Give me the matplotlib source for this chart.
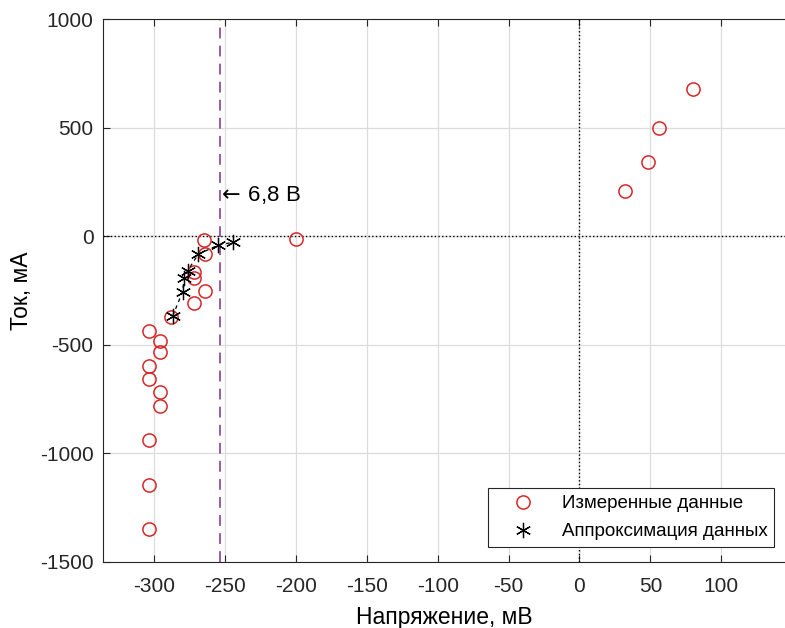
import numpy as np
import matplotlib.pyplot as plt

plt.rcParams['font.family'] = ['Liberation Sans', 'DejaVu Sans']
plt.rcParams['axes.unicode_minus'] = False

# измеренные точки: напряжение (мВ), ток (мА)
u_meas = [80, 56, 48, 32, -200, -265, -264, -272, -272, -264, -272, -288,
          -304, -296, -296, -304, -304, -296, -296, -304, -304, -304]
i_meas = [680, 500, 340, 210, -12, -17, -83, -163, -194, -251, -310, -372,
          -435, -483, -532, -596, -658, -716, -781, -940, -1146, -1348]

# аппроксимация
u_appr = [-287, -280, -279, -276.5, -269, -255, -244.5]
i_appr = [-367, -255, -194, -159, -83, -41, -28]

u_break = -254
xticks = [-300, -250, -200, -150, -100, -50, 0, 50, 100]
yticks = [-1500, -1000, -500, 0, 500, 1000]

fig = plt.figure(figsize=(7.85, 6.28), dpi=100)
ax = fig.add_axes([0.1316, 0.1056, 0.8684, 0.8637])

ax.axhline(0, color='black', ls=':', lw=1, zorder=1)
ax.axvline(0, color='black', ls=':', lw=1, zorder=1)
ax.axvline(u_break, color='#7E2F8E', ls=(0, (6, 4)), lw=1.3, alpha=0.85, zorder=2)

ax.plot(u_meas, i_meas, 'o', mfc='none', mec='#d62728', ms=9.5, mew=1.1,
        label='Измеренные данные', zorder=3)
ax.plot(u_appr, i_appr, color='black', ls=(0, (3, 3)), lw=0.9, marker=(6, 2, 0),
        ms=11, mew=0.9, label='Аппроксимация данных', zorder=4)

ax.text(u_break - 1.5, 190, r'$\leftarrow\,$6,8 В', fontsize=16, va='center', ha='left')

ax.set_xlim(-336, 145)
ax.set_ylim(-1500, 1000)
ax.set_xticks(xticks)
ax.set_yticks(yticks)
ax.tick_params(direction='in', top=True, labelsize=15, length=5, colors='#262626')
ax.tick_params(axis='x', pad=11)
ax.tick_params(axis='y', pad=7)
ax.grid(True, color='#dcdcdc', lw=0.9)
ax.set_axisbelow(True)
ax.spines['right'].set_visible(False)
for s in ['left', 'top', 'bottom']:
    ax.spines[s].set_color('#262626')

ax.set_xlabel('Напряжение, мВ', fontsize=16.5, labelpad=7)
ax.set_ylabel('Ток, мА', fontsize=16.5, labelpad=5)

leg = ax.legend(loc='lower right', bbox_to_anchor=(0.984, 0.027), fontsize=13.5,
                fancybox=False, edgecolor='#262626', framealpha=1,
                handlelength=3.1, handletextpad=0.5, borderpad=0.35,
                labelspacing=0.6, borderaxespad=0)
leg.get_frame().set_linewidth(0.8)
# в легенде аппроксимация показывается только маркером
leg.legend_handles[1].set_linestyle('none')

fig.savefig('out.png', dpi=100)
